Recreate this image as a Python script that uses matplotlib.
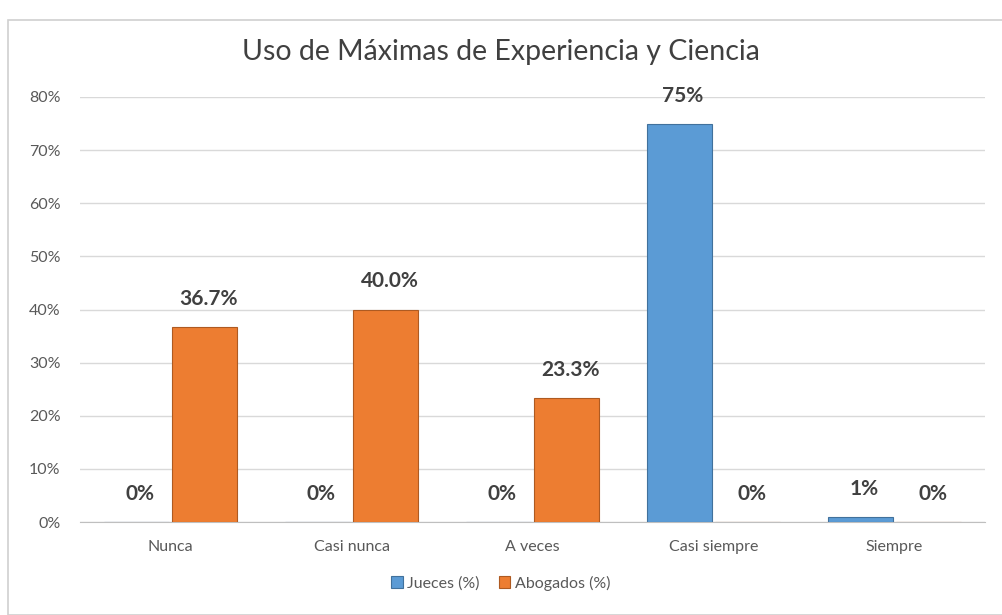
import matplotlib.pyplot as plt
import numpy as np
from matplotlib.patches import Rectangle

categories = ["Nunca", "Casi nunca", "A veces", "Casi siempre", "Siempre"]
jueces = [0, 0, 0, 75, 1]
abogados = [36.7, 40.0, 23.3, 0, 0]
jueces_labels = ["0%", "0%", "0%", "75%", "1%"]
abogados_labels = ["36.7%", "40.0%", "23.3%", "0%", "0%"]
yticks = [0, 10, 20, 30, 40, 50, 60, 70, 80]

plt.rcParams['font.family'] = ['Lato', 'DejaVu Sans']

fig = plt.figure(figsize=(10.02, 6.15), dpi=100)
# chart area border
fig.patches.append(Rectangle((8 / 1002, 0), 1.0, 1 - 20 / 615, transform=fig.transFigure,
                             fill=False, edgecolor='#D0D0D0', linewidth=1.2))

ax = fig.add_axes([80 / 1002, 1 - 522 / 615, 905 / 1002, 425 / 615])

x = np.arange(len(categories))
w = 0.36
blue = '#5B9BD5'
orange = '#ED7D31'
b1 = ax.bar(x - w / 2 - 0.01, jueces, w, color=blue, edgecolor='#41719C', linewidth=0.8,
            label='Jueces (%)', zorder=3)
b2 = ax.bar(x + w / 2 + 0.01, abogados, w, color=orange, edgecolor='#AE5A21', linewidth=0.8,
            label='Abogados (%)', zorder=3)

for bars, labels in [(b1, jueces_labels), (b2, abogados_labels)]:
    for rect, lab in zip(bars, labels):
        ax.annotate(lab, (rect.get_x() + rect.get_width() / 2 + 0.02, rect.get_height()),
                    xytext=(0, 13), textcoords='offset points', ha='center', va='bottom',
                    fontsize=15, fontweight='bold', color='#404040')

ax.set_ylim(0, 80)
ax.set_xlim(-0.5, len(categories) - 0.5)
ax.set_yticks(yticks)
ax.set_yticklabels([f"{v}%" for v in yticks])
ax.set_xticks(x)
ax.set_xticklabels(categories)
ax.tick_params(axis='both', length=0, labelsize=11.5, colors='#595959')
ax.tick_params(axis='x', pad=13)
ax.tick_params(axis='y', pad=14)
ax.grid(axis='y', color='#D9D9D9', linewidth=1, zorder=0)
for s in ['top', 'right', 'left']:
    ax.spines[s].set_visible(False)
ax.spines['bottom'].set_color('#BFBFBF')

fig.text(0.5, 1 - 52 / 615, "Uso de Máximas de Experiencia y Ciencia", ha='center', va='center',
         fontsize=20.5, color='#404040')

fig.legend(loc='center', bbox_to_anchor=(0.5, 1 - 583 / 615), ncol=2, frameon=False,
           fontsize=11.5, handlelength=0.7, handleheight=0.7, columnspacing=1.2,
           handletextpad=0.3, labelcolor='#595959')

fig.savefig("out.png", dpi=100)
